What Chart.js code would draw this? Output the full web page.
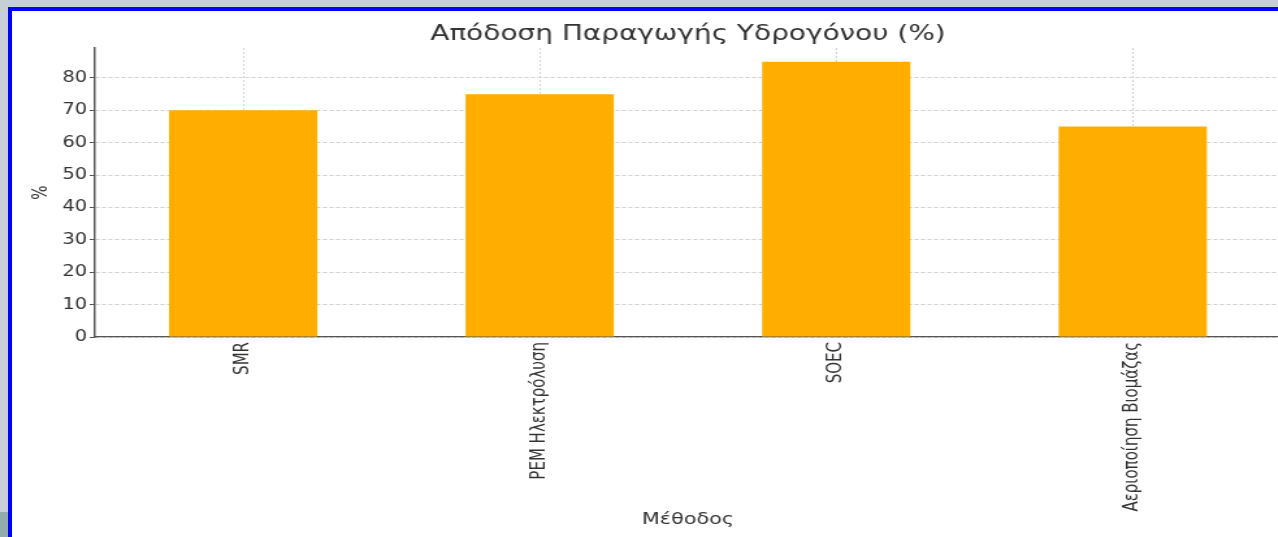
<!DOCTYPE html>
<html>
<head>
<meta charset="utf-8">
<script src="https://cdn.jsdelivr.net/npm/chart.js@4.4.1/dist/chart.umd.min.js"></script>
<style>
    html, body { margin: 0; padding: 0; width: 1278px; height: 537px; overflow: hidden; background: #c5cfd5; }
    .frame { position: absolute; left: 8px; top: 7px; width: 1300px; height: 600px; background: #fff; border-left: 4px solid #0000ff; border-top: 4px solid #0000ff; }
    .corner { position: absolute; left: 0; top: 512px; width: 8px; height: 25px; background: #93acab; }
    /* the source picture is stretched sideways, so the chart is too */
    .wrap { position: absolute; left: 0; top: 0; width: 1000px; height: 537px; transform: scaleX(1.3); transform-origin: 0 0; }
</style>
</head>
<body>
<div class="frame"></div>
<div class="corner"></div>
<div class="wrap"><canvas id="chart" width="1000" height="537"></canvas></div>
<script>
// --- Δεδομένα ---
const methods = ['SMR', 'PEM Ηλεκτρόλυση', 'SOEC', 'Αεριοποίηση Βιομάζας'];
const efficiency = [70, 75, 85, 65];
const yTicks = [0, 10, 20, 30, 40, 50, 60, 70, 80];
const yMax = 89.25;

const font = 'DejaVu Sans';
const textColor = '#333';
const axisColor = '#555';
const gridColor = '#cfcfcf';

document.addEventListener('DOMContentLoaded', () => {
    const ctx = document.getElementById('chart').getContext('2d');
    new Chart(ctx, {
        type: 'bar',
        data: {
            labels: methods,
            datasets: [{
                data: efficiency,
                backgroundColor: '#ffae00',
                borderWidth: 0,
                barPercentage: 0.5,
                categoryPercentage: 1.0
            }]
        },
        options: {
            responsive: false,
            animation: false,
            layout: { padding: { left: 0, right: 14.6, top: 0, bottom: 0 } },
            plugins: {
                legend: { display: false },
                tooltip: { enabled: false },
                title: {
                    display: true,
                    text: 'Απόδοση Παραγωγής Υδρογόνου (%)',
                    fullSize: false,
                    color: textColor,
                    font: { family: font, size: 21.5, weight: 'normal', lineHeight: 1.2 },
                    padding: { top: 22, bottom: 0.2 }
                }
            },
            scales: {
                x: {
                    offset: true,
                    // border.dash sets the dash of the grid lines in v4
                    border: { display: true, color: axisColor, width: 1.2, dash: [2, 2] },
                    grid: {
                        offset: false,
                        color: gridColor,
                        tickLength: 0
                    },
                    ticks: {
                        color: textColor,
                        font: { family: font, size: 15 },
                        minRotation: 90,
                        maxRotation: 90,
                        padding: 5
                    },
                    title: {
                        display: true,
                        text: 'Μέθοδος',
                        color: textColor,
                        font: { family: font, size: 16, lineHeight: 1.2 },
                        padding: { top: 0, bottom: 8 }
                    },
                    afterFit: (scale) => { scale.height = 200; }
                },
                y: {
                    min: 0,
                    max: yMax,
                    border: { display: true, color: axisColor, width: 1.5, dash: [3, 2] },
                    grid: {
                        color: gridColor,
                        tickLength: 4,
                        tickColor: axisColor,
                        tickBorderDash: []
                    },
                    ticks: {
                        stepSize: 10,
                        color: textColor,
                        font: { family: font, size: 15 },
                        padding: 2
                    },
                    afterBuildTicks: (scale) => {
                        scale.ticks = scale.ticks.filter(t => yTicks.includes(t.value));
                    },
                    title: {
                        display: true,
                        text: '%',
                        color: textColor,
                        font: { family: font, size: 15, lineHeight: 1.2 },
                        padding: { top: 23, bottom: 0 }
                    },
                    afterFit: (scale) => { scale.width = 73; }
                }
            }
        }
    });
});
</script>
</body>
</html>
